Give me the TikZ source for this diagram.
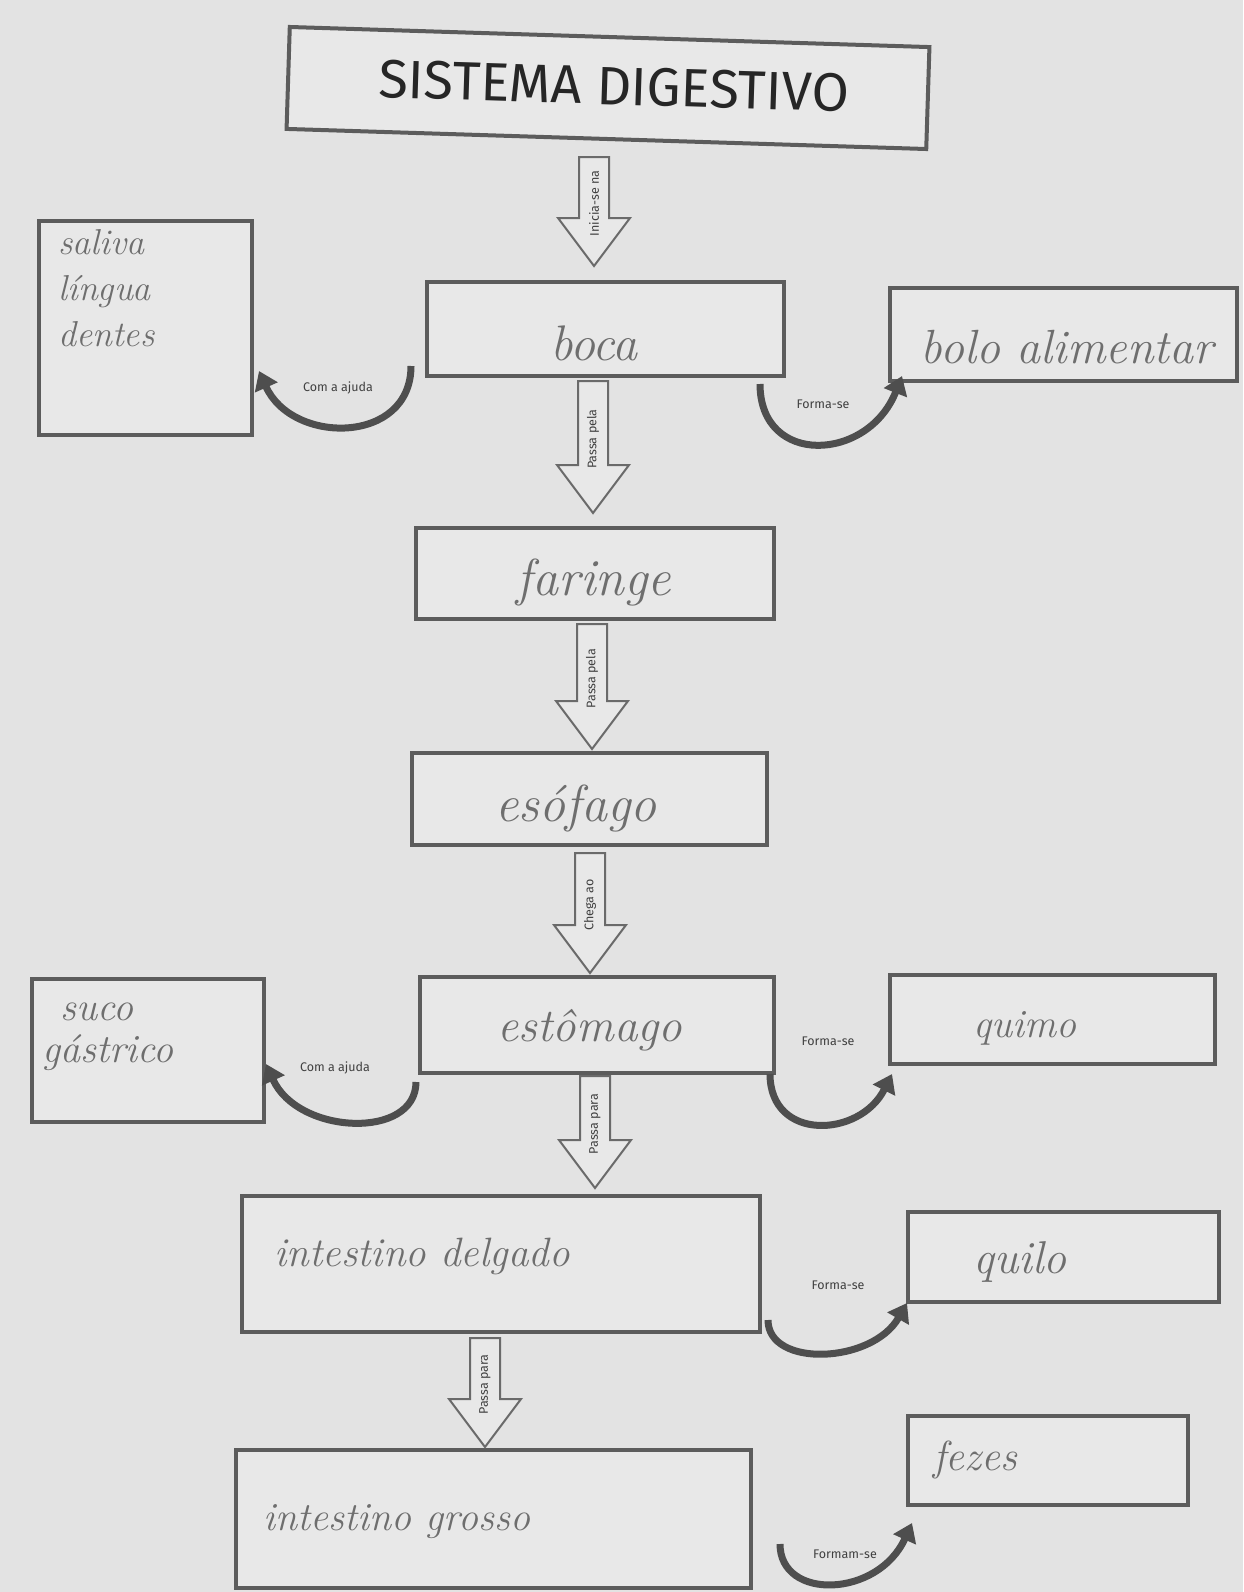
\documentclass[tikz,border=0pt]{standalone}
\usepackage{fontspec}
\newfontfamily\labfont{Fira Sans}
\usetikzlibrary{arrows.meta,calc}
\definecolor{paper}{HTML}{E3E3E3}
\definecolor{boxfill}{HTML}{E8E8E8}
\definecolor{boxline}{HTML}{5C5C5C}
\definecolor{hand}{HTML}{6E6E6E}
\definecolor{curvc}{HTML}{4E4E4E}
\definecolor{arrline}{HTML}{6A6A6A}
\newcommand\hwsize[1]{\itshape\fontsize{#1}{#1}\selectfont}
\tikzset{
  box/.style={draw=boxline, fill=boxfill, line width=4pt, inner sep=0pt, outer sep=0pt},
  hw/.style={text=hand, font=\hwsize{46}, inner sep=0pt},
  hwsmall/.style={text=hand, inner sep=0pt, align=left},
  blk/.style={draw=arrline, fill=boxfill, line width=2pt, line join=miter},
  arrlab/.style={text=black!75, font=\labfont\fontsize{12.5}{13}\selectfont, inner sep=0pt},
  curvlab/.style={text=black!75, font=\labfont\fontsize{12.5}{13}\selectfont, inner sep=0pt},
  curv/.style={draw=curvc, line width=7pt, -{Triangle[length=18pt,width=24pt]}},
}
\newcommand\blkarrow[5]{%
  \draw[blk] (#2-15,#3) -- (#2-15,#4-48) -- (#2-36,#4-48) -- (#2,#4) -- (#2+36,#4-48) -- (#2+15,#4-48) -- (#2+15,#3) -- cycle;
  \node[arrlab, rotate=90] (#1) at (#2,{(#3+#4)/2-8}) {#5};
}
\begin{document}
\begin{tikzpicture}[x=1pt,y=-1pt]
\fill[paper] (0,0) rectangle (1243,1592);
\useasboundingbox (0,0) rectangle (1243,1592);

% boxes
\node[box, minimum width=640pt, minimum height=102pt, rotate=-1.8] (title) at (608,88) {};
\node[font=\labfont\fontsize{54}{58}\selectfont, text=black!85, rotate=-1.8] (titleT) at (614,86) {SISTEMA DIGESTIVO};

\node[box, minimum width=213pt, minimum height=214pt] (saliva) at (145.5,328) {};
\node[box, minimum width=357pt, minimum height=94pt] (boca) at (605.5,329) {};
\node[box, minimum width=347pt, minimum height=93pt] (bolo) at (1063.5,334.5) {};
\node[box, minimum width=358pt, minimum height=91pt] (faringe) at (595,573.5) {};
\node[box, minimum width=355pt, minimum height=92pt] (esofago) at (589.5,799) {};
\node[box, minimum width=354pt, minimum height=96pt] (estomago) at (597,1025) {};
\node[box, minimum width=232pt, minimum height=143pt] (suco) at (148,1050.5) {};
\node[box, minimum width=325pt, minimum height=89pt] (quimo) at (1052.5,1019.5) {};
\node[box, minimum width=518pt, minimum height=136pt] (delgado) at (501,1264) {};
\node[box, minimum width=311pt, minimum height=90pt] (quilo) at (1063.5,1257) {};
\node[box, minimum width=515pt, minimum height=138pt] (grosso) at (493.5,1519) {};
\node[box, minimum width=280pt, minimum height=89pt] (fezes) at (1048,1460.5) {};

% handwritten texts
\node[hwsmall, anchor=north west, font=\itshape\fontsize{36}{46}\selectfont] (salivaT) at (58,229) {saliva\\língua\\dentes};
\node[hw, font=\hwsize{50}] (bocaT) at (594,343) {boca};
\node[hw, font=\hwsize{48}] (boloT) at (1067,347) {bolo alimentar};
\node[hw, font=\hwsize{52}] (faringeT) at (594,582) {faringe};
\node[hw, font=\hwsize{52}] (esofagoT) at (576,808) {esófago};
\node[hw, font=\hwsize{47}] (estomagoT) at (590,1030) {estômago};
\node[hwsmall, anchor=north west, font=\itshape\fontsize{40}{42}\selectfont] (sucoT) at (42,1003) {\hspace*{18pt}suco\\gástrico};
\node[hw, font=\hwsize{40}] (quimoT) at (1025,1028) {quimo};
\node[hw, font=\hwsize{41}] (delgadoT) at (422,1256) {intestino delgado};
\node[hw, font=\hwsize{46}] (quiloT) at (1020,1262) {quilo};
\node[hw, font=\hwsize{40}] (grossoT) at (397,1522) {intestino grosso};
\node[hw, font=\hwsize{42}] (fezesT) at (975,1460) {fezes};

% block arrows
\blkarrow{a1}{594}{157}{266}{Inicia-se na}
\blkarrow{a2}{593}{381}{513}{Passa pela}
\blkarrow{a3}{592}{624}{749}{Passa pela}
\blkarrow{a4}{590}{853}{973}{Chega ao}
\blkarrow{a5}{595}{1076}{1188}{Passa para}
\blkarrow{a6}{485}{1338}{1447}{Passa para}

% curved arrows
\coordinate (c1s) at (411,366); \coordinate (c1e) at (259,371);
\draw[curv] (c1s) .. controls (411,445) and (292,445) .. (c1e);
\node[curvlab] (c1l) at (338,388) {Com a ajuda};

\coordinate (c2s) at (760,384); \coordinate (c2e) at (902,376);
\draw[curv] (c2s) .. controls (760,467) and (868,462) .. (c2e);
\node[curvlab] (c2l) at (823,404) {Forma-se};

\coordinate (c3s) at (416,1082); \coordinate (c3e) at (266,1064);
\draw[curv] (c3s) .. controls (416,1140) and (298,1135) .. (c3e);
\node[curvlab] (c3l) at (335,1068) {Com a ajuda};

\coordinate (c4s) at (770,1074); \coordinate (c4e) at (892,1074);
\draw[curv] (c4s) .. controls (770,1142) and (860,1138) .. (c4e);
\node[curvlab] (c4l) at (828,1041) {Forma-se};

\coordinate (c5s) at (768,1320); \coordinate (c5e) at (907,1303);
\draw[curv] (c5s) .. controls (768,1368) and (872,1364) .. (c5e);
\node[curvlab] (c5l) at (838,1285) {Forma-se};

\coordinate (c6s) at (780,1544); \coordinate (c6e) at (912,1523);
\draw[curv] (c6s) .. controls (780,1601) and (878,1598) .. (c6e);
\node[curvlab] (c6l) at (845,1554) {Formam-se};
\end{tikzpicture}
\end{document}
